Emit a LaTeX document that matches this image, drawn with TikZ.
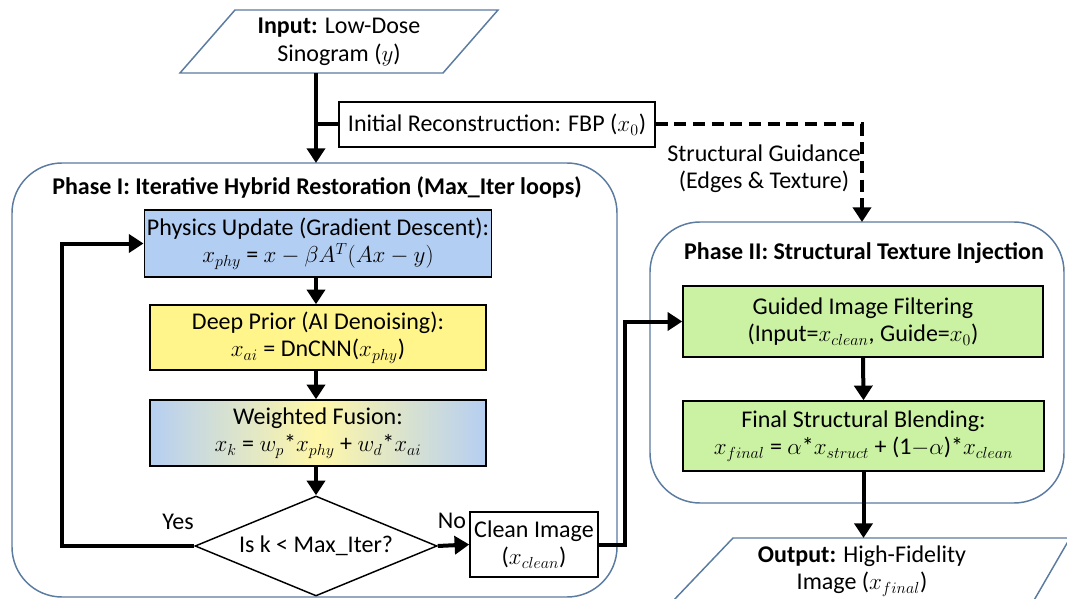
\documentclass[tikz,border=0pt]{standalone}
\usepackage{fontspec}
\setmainfont{Carlito}
\usetikzlibrary{arrows.meta,shapes.geometric,calc}
\definecolor{phb}{HTML}{5B7BA0}
\definecolor{physblue}{HTML}{B3CEF3}
\definecolor{dpyellow}{HTML}{FFF58A}
\definecolor{fublue}{HTML}{B6CFF2}
\definecolor{fuyellow}{HTML}{FFF7A8}
\definecolor{grn}{HTML}{CBF2A2}
\tikzset{
  phase/.style={draw=phb, line width=1.1pt, rounded corners=37.5pt, fill=white},
  proc/.style={draw=black, line width=1.1pt, align=center, inner sep=2pt},
  io/.style={draw=phb, line width=1.1pt, fill=white},
  flow/.style={line width=3pt, -{Triangle[width=13.5pt,length=11pt]}},
  plain/.style={line width=3pt},
  guide/.style={line width=3pt, dash pattern=on 9pt off 5pt, -{Triangle[width=13.5pt,length=11pt]}},
  lbl/.style={align=center, inner sep=1pt},
}
\begin{document}
\begin{tikzpicture}[x=0.75pt, y=-0.75pt, font=\fontsize{18}{20.5}\selectfont]
\path[use as bounding box, fill=white] (0,0) rectangle (1067,599);
\clip (0,0) rectangle (1067,599);

% input
\draw[io] (235,10) -- (498,10) -- (443,73) -- (180,73) -- cycle;
\node[lbl] (inp) at (339,42) {\textbf{Input:} Low-Dose\\Sinogram ($y$)};
\coordinate (inbot) at (316,73);

% phase boxes
\node[phase, minimum width=453.75pt, minimum height=325.5pt] (ph1) at (314.5,380) {};
\node[phase, minimum width=310.5pt, minimum height=210.75pt] (ph2) at (857,362.5) {};
\node[lbl, font=\fontsize{18}{20}\selectfont\bfseries] (t1) at (317,187) {Phase I: Iterative Hybrid Restoration (Max\_Iter loops)};
\node[lbl, font=\fontsize{18}{20}\selectfont\bfseries] (t2) at (864,253) {Phase II: Structural Texture Injection};

% FBP
\node[proc, fill=white, minimum width=237pt, minimum height=33.75pt] (fbp) at (497,124.5) {Initial Reconstruction: FBP ($x_0$)};
\coordinate (ph1top) at (316,163);
\coordinate (ph2top) at (862,222);

% phase I nodes
\node[proc, fill=physblue, minimum width=252pt, minimum height=50pt] (phys) at (318,243.5)
  {Physics Update (Gradient Descent):\\$x_{phy}$ = $x - \beta A^T(Ax - y)$};
\node[proc, fill=dpyellow, minimum width=252pt, minimum height=48.75pt] (deep) at (318,337.5)
  {Deep Prior (AI Denoising):\\$x_{ai}$ = DnCNN($x_{phy}$)};
\node[proc, left color=fublue, right color=fublue, middle color=fuyellow, minimum width=252pt, minimum height=49.5pt] (fus) at (318,433)
  {Weighted Fusion:\\$x_k$ = $w_p$*$x_{phy}$ + $w_d$*$x_{ai}$};
\node[proc, shape=diamond, fill=white, shape aspect=2.4, minimum width=181.5pt, minimum height=75pt, inner sep=0pt] (dec) at (316,546) {Is k < Max\_Iter?};
\node[proc, fill=white, minimum width=96pt, minimum height=48.75pt] (clean) at (534,544.5) {Clean Image\\($x_{clean}$)};

% phase II nodes
\node[proc, fill=grn, minimum width=270pt, minimum height=53.25pt] (gif) at (863,321.5)
  {Guided Image Filtering\\(Input=$x_{clean}$, Guide=$x_0$)};
\node[proc, fill=grn, minimum width=270.75pt, minimum height=52.5pt] (blend) at (863.5,436)
  {Final Structural Blending:\\$x_{final}$ = $\alpha$*$x_{struct}$ + (1$-\alpha$)*$x_{clean}$};

% output
\draw[io] (733,538) -- (1070,538) -- (1033,602) -- (672,602) -- cycle;
\node[lbl] (outp) at (862,571) {\textbf{Output:} High-Fidelity\\Image ($x_{final}$)};
\coordinate (outtop) at (863.5,538);

% connectors
\draw[flow] (inbot) -- (ph1top);
\draw[plain] (inbot |- fbp.west) -- (fbp.west);
\draw[guide] (fbp.east) -- (ph2top |- fbp.east) -- (ph2top);
\node[lbl] (sg) at (764,169) {Structural Guidance\\(Edges \& Texture)};

\draw[flow] (phys.south -| 316,0) -- (deep.north -| 316,0);
\draw[flow] (deep.south -| 316,0) -- (fus.north -| 316,0);
\draw[flow] (fus.south -| 316,0) -- (dec.north);
\draw[flow] (dec.west) -- (62,546) -- (62,243.5) -- (phys.west);
\node[lbl] (yes) at (178,522) {Yes};
\draw[flow] (dec.east) -- (clean.west);
\node[lbl] (no) at (452,521) {No};
\draw[flow] (clean.east) -- (625,544.5) -- (625,321.5) -- (gif.west);
\draw[flow] (gif.south) -- (blend.north);
\draw[flow] (blend.south) -- (outtop);
\end{tikzpicture}
\end{document}
